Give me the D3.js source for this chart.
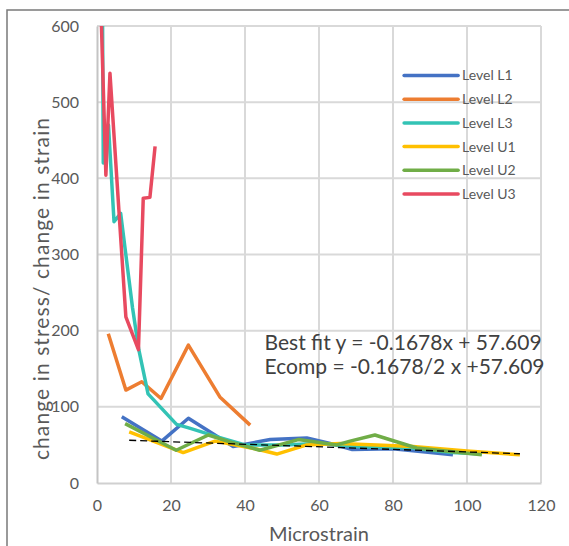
<!DOCTYPE html>
<head>
<meta charset="utf-8">
<title>Modulus vs microstrain</title>
<style>
    body { margin: 0; background: #fff; font-family: Lato, "Open Sans", sans-serif; }
    .tick text { fill: #595959; font-size: 16px; }
    .legend text { fill: #595959; font-size: 14px; }
    .title { fill: #595959; font-size: 20px; }
    .ytitle { font-size: 21px; letter-spacing: 1.1px; }
    .note { fill: #404040; font-size: 21px; }
</style>
</head>
<body>
<script src="https://d3js.org/d3.v7.min.js"></script>
<script>

// [microstrain, change in stress / change in strain]
const levelL1 = [[6.7, 87], [17.5, 55], [24.7, 85], [36.8, 48], [46.8, 57], [56.7, 59], [63, 52], [69, 44], [80, 45], [96.2, 37]];
const levelL2 = [[3.05, 196], [7.8, 122], [12.1, 133], [17.3, 111], [24.7, 181], [33.2, 113], [41.4, 76]];
const levelL3 = [[1.4, 700], [1.7, 420], [3.1, 470], [4.6, 343], [6.4, 354], [9.6, 230], [11.3, 175], [13.8, 117], [21.5, 77], [25, 72], [33, 60], [40, 50], [50, 50], [60, 52], [70, 48], [85, 46], [96, 40], [104, 38]];
const levelU1 = [[8.7, 67], [23.3, 40], [31.9, 55], [43.6, 44], [48.6, 38], [56.7, 50], [65.7, 52], [85.4, 48], [100, 42], [114.3, 37]];
const levelU2 = [[7.6, 78], [21.4, 43], [30.1, 63], [35.9, 54], [44, 43], [54.4, 57], [64.8, 50], [68.4, 55], [75.1, 63], [86.4, 46], [104, 37]];
const levelU3 = [[0.9, 650], [2.4, 404], [3.5, 538], [7.8, 218], [11.2, 175], [12.5, 374], [14.3, 375], [15.7, 442]];
const bestFit = [[8.7, 56.1], [114.3, 38.4]];

const seriesNames = ["Level L1", "Level L2", "Level L3", "Level U1", "Level U2", "Level U3"];
const seriesData = [levelL1, levelL2, levelL3, levelU1, levelU2, levelU3];
const colors = ["#4472C4", "#ED7D31", "#33C3B5", "#FFC000", "#70AD47", "#E84A60"];

const xTicks = [0, 20, 40, 60, 80, 100, 120];
const yTicks = [0, 100, 200, 300, 400, 500, 600];
const noteLines = ["Best fit y = -0.1678x + 57.609", "Ecomp = -0.1678/2 x +57.609"];

const W = 569, H = 546;
const margin = {top: 26, right: 28, bottom: 63, left: 97};
const width = W - margin.left - margin.right,
      height = H - margin.top - margin.bottom;

const root = d3.select("body").append("svg")
    .attr("width", W)
    .attr("height", H);

// outer chart frame (runs off the bottom and right edge)
root.append("rect")
    .attr("x", 7).attr("y", 10)
    .attr("width", W + 20).attr("height", H + 20)
    .attr("fill", "none")
    .attr("stroke", "#7a7a7a")
    .attr("stroke-width", 1.5);

const svg = root.append("g")
    .attr("transform", `translate(${margin.left},${margin.top})`);

const x = d3.scaleLinear().domain([0, 120]).range([0, width]);
const y = d3.scaleLinear().domain([0, 600]).range([height, 0]);

svg.append("defs").append("clipPath").attr("id", "plot")
    .append("rect").attr("width", width).attr("height", height);

// gridlines
svg.append("g")
    .selectAll("line.v")
    .data(xTicks.slice(1))
    .join("line")
    .attr("x1", d => x(d)).attr("x2", d => x(d))
    .attr("y1", 0).attr("y2", height)
    .attr("stroke", "#d9d9d9").attr("stroke-width", 2);

svg.append("g")
    .selectAll("line.h")
    .data(yTicks.slice(1))
    .join("line")
    .attr("x1", 0).attr("x2", width)
    .attr("y1", d => y(d)).attr("y2", d => y(d))
    .attr("stroke", "#d9d9d9").attr("stroke-width", 2);

// axes
const xAxis = svg.append("g")
    .attr("transform", `translate(0,${height})`)
    .call(d3.axisBottom(x).tickValues(xTicks).tickSize(0).tickPadding(17));
xAxis.select(".domain").attr("stroke", "#d0d0d0").attr("stroke-width", 2);

const yAxis = svg.append("g")
    .call(d3.axisLeft(y).tickValues(yTicks).tickSize(0).tickPadding(18));
yAxis.select(".domain").attr("stroke", "#c4c4c4").attr("stroke-width", 2);
svg.selectAll(".tick text").style("font-family", "Lato, sans-serif");

// series
const line = d3.line().x(d => x(d[0])).y(d => y(d[1]));

const plot = svg.append("g").attr("clip-path", "url(#plot)");

plot.selectAll("path.series")
    .data(seriesData)
    .join("path")
    .attr("class", "series")
    .attr("fill", "none")
    .attr("stroke", (d, i) => colors[i])
    .attr("stroke-width", 3.5)
    .attr("stroke-linejoin", "round")
    .attr("d", line);

plot.append("path")
    .datum(bestFit)
    .attr("fill", "none")
    .attr("stroke", "#000")
    .attr("stroke-width", 1.3)
    .attr("stroke-dasharray", "7,4")
    .attr("d", line);

// legend
const legend = svg.append("g")
    .attr("class", "legend")
    .attr("transform", `translate(${x(83)},${y(535)})`);

const item = legend.selectAll("g")
    .data(seriesNames)
    .join("g")
    .attr("transform", (d, i) => `translate(0,${i * 23.7})`);

item.append("line")
    .attr("x1", 0).attr("x2", 54)
    .attr("stroke", (d, i) => colors[i])
    .attr("stroke-width", 3.5)
    .attr("stroke-linecap", "round");

item.append("text")
    .attr("x", 58)
    .attr("dy", "0.35em")
    .text(d => d);

// fit annotation
svg.append("g")
    .selectAll("text")
    .data(noteLines)
    .join("text")
    .attr("class", "note")
    .attr("x", x(45.3))
    .attr("y", (d, i) => y(174) + i * 24)
    .text(d => d);

// axis titles
svg.append("text")
    .attr("class", "title")
    .attr("text-anchor", "middle")
    .attr("x", width / 2)
    .attr("y", height + 58)
    .text("Microstrain");

svg.append("text")
    .attr("class", "title ytitle")
    .attr("text-anchor", "middle")
    .attr("transform", `translate(${-48},${height / 2 + 34}) rotate(-90)`)
    .text("change in stress/ change in strain");

</script>
</body>
